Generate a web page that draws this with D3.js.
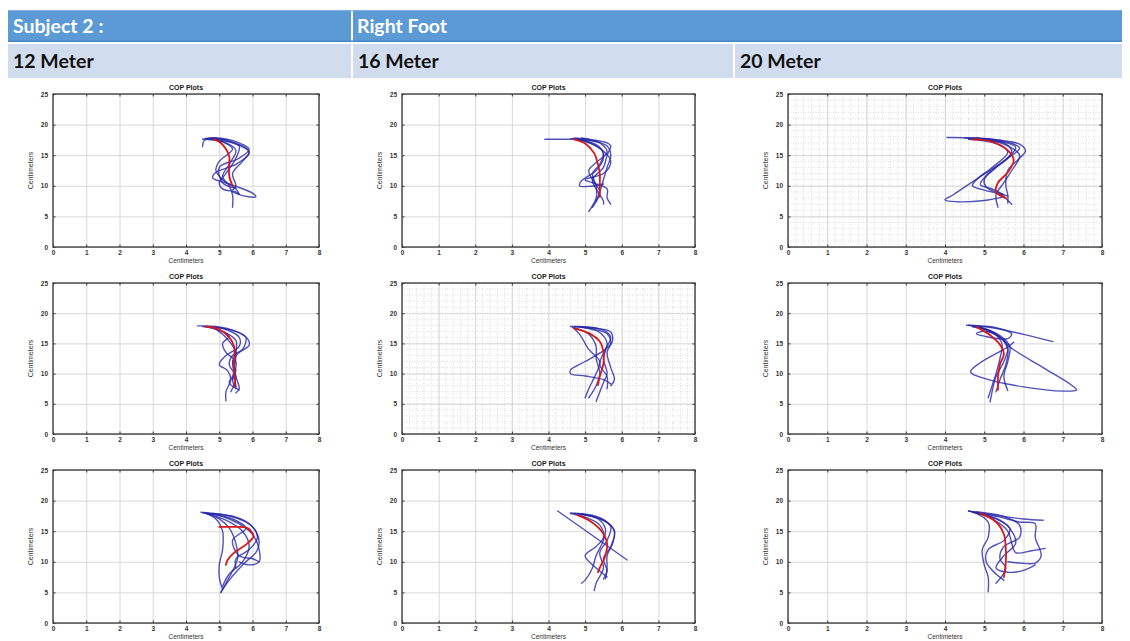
<!DOCTYPE html>
<html>
<head>
<meta charset="utf-8">
<script src="https://cdn.jsdelivr.net/npm/d3@7/dist/d3.min.js"></script>
<style>
  html, body { margin: 0; padding: 0; background: #ffffff; }
  svg { display: block; }
</style>
</head>
<body>
<svg id="chart" width="1130" height="641"></svg>
<script>
// ---- Labels and ticks ----
const subjectLabel = "Subject 2 :";
const footLabel = "Right Foot";
const distanceLabels = ["12 Meter", "16 Meter", "20 Meter"];
const panelTitle = "COP Plots";
const axisLabel = "Centimeters";
const xTickValues = [0, 1, 2, 3, 4, 5, 6, 7, 8];
const yTickValues = [0, 5, 10, 15, 20, 25];
const xDomain = [0, 8];
const yDomain = [0, 25];

// ---- COP traces, [x cm, y cm]; one mean trace (red) per panel ----
// 12 m, trial set 1
const m12a_trials = [
  [[4.5,17.6],[4.8,17.8],[5.3,17.3],[5.8,16.2],[5.9,15.3],[5.5,13.5],[4.9,12.2],[4.8,11.3],[5.3,10.3],[6.0,8.8],[6.1,8.2],[5.7,8.4],[5.4,9.0]],
  [[4.6,17.7],[5.0,17.5],[5.6,16.6],[5.9,15.6],[5.7,14.0],[5.4,12.0],[5.5,10.0],[5.4,9.3]],
  [[4.7,17.8],[5.1,17.2],[5.4,16.0],[5.0,14.0],[4.9,12.5],[5.1,11.0],[5.5,9.5],[5.6,8.6]],
  [[4.6,17.6],[5.2,17.0],[5.5,15.8],[5.3,13.5],[5.1,11.5],[5.3,10.0],[5.4,8.5],[5.4,6.5]],
  [[4.5,16.4],[4.55,17.4],[4.9,17.8],[5.6,17.0],[5.9,16.0],[5.6,14.5],[5.0,13.0],[5.1,10.5],[5.5,9.6]],
  [[4.8,17.8],[5.2,17.4],[5.6,16.5],[5.5,14.5],[5.2,12.0],[5.0,10.5],[5.1,9.5],[5.5,9.0],[5.6,8.6]]
];
const m12a_mean = [[4.85,17.6],[5.05,17.0],[5.2,16.0],[5.3,14.8],[5.3,13.2],[5.3,11.6],[5.4,10.0]];

// 16 m, trial set 1
const m16a_trials = [
  [[3.9,17.6],[4.4,17.6],[4.8,17.6],[5.3,17.2],[5.6,16.5],[5.7,15.0],[5.6,13.0],[5.5,11.0],[5.4,9.0],[5.3,7.5]],
  [[4.6,17.7],[5.0,17.4],[5.4,16.3],[5.5,14.5],[5.3,12.5],[4.9,10.8],[4.85,10.0],[5.1,9.9],[5.5,10.3]],
  [[4.7,17.8],[5.2,17.5],[5.6,17.0],[5.7,16.5],[5.6,15.0],[5.5,13.0],[5.2,11.0],[5.35,9.0],[5.5,7.5],[5.5,7.0]],
  [[4.8,17.7],[5.2,16.8],[5.5,15.5],[5.4,13.5],[5.2,12.0],[5.3,10.0],[5.3,8.0],[5.1,5.8]],
  [[4.7,17.6],[5.3,16.5],[5.7,14.0],[5.5,12.0],[5.0,11.0],[5.2,10.5],[5.6,9.5],[5.6,8.0],[5.7,7.0]],
  [[4.9,17.8],[5.4,17.0],[5.6,15.5],[5.3,13.8],[5.1,12.5],[5.2,11.0],[5.4,9.0],[5.2,6.5]]
];
const m16a_mean = [[4.7,17.6],[5.0,16.9],[5.25,15.3],[5.35,13.5],[5.4,12.0],[5.4,10.0],[5.4,8.2]];

// 20 m, trial set 1
const m20a_trials = [
  [[4.05,17.9],[4.8,17.8],[5.5,17.3],[5.9,16.2],[5.6,14.5],[4.9,11.5],[4.2,8.5],[4.0,7.7],[4.3,7.4],[5.0,7.6],[5.5,8.2]],
  [[4.5,17.8],[5.3,17.5],[5.9,16.8],[6.05,15.7],[5.9,14.5],[5.6,12.5],[5.55,10.0],[5.6,8.5],[5.6,7.2]],
  [[4.6,17.7],[5.4,17.2],[5.8,16.3],[5.6,14.5],[5.1,12.0],[4.9,10.2],[5.2,9.5],[5.5,8.5]],
  [[4.7,17.7],[5.5,17.0],[5.7,15.5],[5.3,13.0],[5.0,11.0],[5.05,9.8],[5.3,9.0],[5.6,8.3]],
  [[4.8,17.8],[5.5,16.8],[5.9,15.0],[5.7,12.5],[5.5,10.5],[5.3,8.5],[5.35,6.5]],
  [[4.6,17.6],[5.3,16.9],[5.6,15.5],[5.2,13.0],[4.8,11.0],[4.7,10.0],[5.0,9.3],[5.4,8.6],[5.7,7.0]]
];
const m20a_mean = [[4.7,17.6],[5.2,17.2],[5.6,15.8],[5.75,14.2],[5.6,12.2],[5.35,10.5],[5.3,9.0],[5.55,8.0]];

// 12 m, trial set 2
const m12b_trials = [
  [[4.35,17.9],[4.9,17.8],[5.5,17.0],[5.85,15.8],[5.9,14.7],[5.6,13.5],[5.4,12.0],[5.5,10.5],[5.4,9.0],[5.5,7.5]],
  [[4.6,17.8],[5.2,17.3],[5.6,16.0],[5.6,14.5],[5.2,13.0],[5.0,11.5],[5.25,10.5],[5.35,9.0],[5.2,7.0],[5.2,5.5]],
  [[4.7,17.7],[5.1,17.0],[5.5,15.5],[5.5,13.5],[5.4,11.5],[5.5,9.5],[5.6,7.5],[5.5,6.8]],
  [[4.5,17.8],[5.0,17.2],[5.3,16.2],[5.1,15.0],[5.2,13.5],[5.5,12.0],[5.45,10.0],[5.3,8.5],[5.6,7.3]],
  [[4.8,17.7],[5.1,16.5],[5.35,15.0],[5.5,13.5],[5.45,11.0],[5.4,9.0]],
  [[4.9,17.7],[5.5,17.0],[5.8,16.0],[5.7,14.0],[5.4,13.0],[5.3,11.5],[5.5,9.5],[5.35,7.0]]
];
const m12b_mean = [[4.6,17.8],[5.0,17.3],[5.3,16.0],[5.45,14.5],[5.45,12.5],[5.45,10.0],[5.5,7.8]];

// 16 m, trial set 2
const m16b_trials = [
  [[4.7,17.8],[5.2,17.4],[5.6,16.6],[5.7,15.0],[5.5,13.8],[5.0,12.0],[4.6,10.6],[4.6,10.0],[5.0,9.6],[5.5,9.0],[5.7,8.3]],
  [[4.6,17.8],[5.3,17.5],[5.7,16.9],[5.75,15.5],[5.6,13.5],[5.7,11.0],[5.8,9.0],[5.7,8.0]],
  [[4.7,17.6],[5.1,16.5],[5.3,14.5],[5.3,12.5],[5.4,10.0],[5.3,8.0],[5.1,6.0]],
  [[4.9,17.7],[5.4,16.8],[5.6,15.0],[5.5,12.5],[5.6,10.0],[5.5,8.5],[5.3,5.4]],
  [[4.65,17.7],[4.85,16.5],[5.1,14.0],[5.4,12.0],[5.3,10.0],[5.1,7.5],[5.0,6.0]],
  [[4.8,17.8],[5.5,17.2],[5.7,16.0],[5.55,14.0],[5.4,11.5],[5.6,9.5],[5.6,7.5]]
];
const m16b_mean = [[4.7,17.5],[5.1,16.7],[5.4,15.3],[5.5,13.5],[5.5,11.7],[5.4,9.5],[5.35,8.1]];

// 20 m, trial set 2
const m20b_trials = [
  [[4.55,18.0],[5.2,17.6],[6.0,16.5],[6.75,15.3]],
  [[4.7,17.8],[5.2,17.0],[5.5,15.5],[5.7,14.2],[6.5,11.0],[7.2,8.2],[7.35,7.3],[7.0,7.1],[6.0,7.8],[5.0,9.2],[4.65,10.3],[4.9,11.8],[5.6,14.4],[5.75,15.2]],
  [[4.6,18.0],[5.3,17.6],[5.7,16.6],[5.6,15.8],[5.0,16.2],[4.8,16.6],[5.0,17.0],[5.4,16.0],[5.6,14.0],[5.55,11.5],[5.4,9.0],[5.3,7.0]],
  [[4.8,17.8],[5.3,16.5],[5.6,14.5],[5.5,12.0],[5.3,9.5],[5.2,7.0],[5.15,5.3]],
  [[4.9,17.7],[5.4,16.3],[5.65,14.5],[5.6,12.0],[5.5,9.5],[5.6,7.2]],
  [[4.7,17.8],[5.2,16.8],[5.45,15.0],[5.4,12.5],[5.3,10.0],[5.2,8.0],[5.1,6.0]]
];
const m20b_mean = [[4.8,17.7],[5.1,16.6],[5.4,14.8],[5.5,13.3],[5.4,11.5],[5.35,9.5],[5.35,7.3]];

// 12 m, trial set 3
const m12c_trials = [
  [[4.45,18.1],[5.2,17.6],[5.8,16.5],[6.1,15.0],[6.2,13.0],[6.1,11.5],[5.8,10.0],[5.3,7.0],[5.05,5.0]],
  [[4.5,18.0],[5.1,17.4],[5.6,16.2],[6.0,14.5],[6.2,12.0],[6.2,10.0],[5.9,9.5],[5.6,10.0]],
  [[4.6,17.9],[5.0,17.0],[5.3,15.5],[5.5,13.0],[5.55,10.5],[5.4,8.5],[5.2,6.5],[5.05,5.0]],
  [[4.7,17.8],[5.2,16.8],[5.7,15.0],[5.9,12.5],[5.7,10.0],[5.3,8.0],[5.1,6.0]],
  [[4.55,18.0],[4.9,17.0],[5.1,15.0],[5.1,12.0],[5.0,9.5],[5.0,7.5],[5.1,5.5]],
  [[4.8,17.9],[5.5,17.3],[5.95,16.0],[6.15,14.0],[5.9,12.0],[5.5,10.5],[5.5,9.0]],
  [[4.6,18.0],[5.4,17.0],[5.8,15.5],[5.4,13.5],[5.6,11.0],[6.0,10.5],[6.2,10.0]]
];
const m12c_mean = [[5.0,15.7],[5.5,15.7],[5.85,15.5],[6.03,14.2],[5.8,12.8],[5.45,11.5],[5.25,10.3],[5.2,9.5]];

// 16 m, trial set 3
const m16c_trials = [
  [[4.25,18.3],[5.2,14.3],[6.15,10.3]],
  [[4.6,18.0],[5.2,17.6],[5.6,16.5],[5.8,15.0],[5.75,13.0],[5.6,11.0],[5.6,9.0],[5.55,7.2]],
  [[4.7,17.9],[5.3,17.2],[5.55,15.5],[5.5,13.5],[5.3,11.0],[5.2,9.0],[5.0,7.0],[4.9,6.5]],
  [[4.8,17.9],[5.4,17.0],[5.7,15.8],[5.6,13.5],[5.4,11.5],[5.5,9.0],[5.3,6.5],[5.25,5.3]],
  [[4.6,17.9],[5.0,17.3],[5.4,16.0],[5.5,14.0],[5.3,12.5],[5.0,11.0],[5.2,9.5],[5.5,8.0],[5.6,7.5]],
  [[4.9,17.8],[5.5,16.8],[5.8,15.0],[5.7,12.5],[5.5,10.5],[5.6,8.5],[5.5,7.2]]
];
const m16c_mean = [[4.8,17.6],[5.1,16.8],[5.45,15.0],[5.6,13.0],[5.55,11.0],[5.4,9.0],[5.35,8.3]];

// 20 m, trial set 3
const m20c_trials = [
  [[4.6,18.3],[5.3,17.6],[6.0,17.0],[6.5,16.8]],
  [[4.6,18.3],[5.4,17.3],[5.9,16.5],[6.3,16.2],[6.3,14.0],[6.45,11.0],[6.3,9.8],[5.9,9.8],[5.6,10.0]],
  [[4.7,18.2],[5.2,17.0],[5.6,15.0],[5.7,13.0],[5.8,11.5],[6.2,11.8],[6.55,12.2]],
  [[4.7,18.2],[5.1,16.5],[5.1,14.0],[4.95,12.0],[5.0,9.5],[5.1,7.5],[5.1,5.1]],
  [[4.8,18.0],[5.4,16.8],[5.7,15.0],[5.8,13.0],[5.5,11.0],[5.3,9.0],[5.6,8.3],[6.0,8.6],[6.3,9.5]],
  [[4.7,18.1],[5.3,17.0],[5.65,15.5],[5.5,13.5],[5.1,12.0],[5.05,10.0],[5.3,8.0],[5.5,7.0]],
  [[4.8,18.2],[5.5,17.4],[5.9,16.0],[5.9,14.0],[5.5,12.5],[5.4,10.5],[5.55,9.0],[5.3,6.5]]
];
const m20c_mean = [[4.9,17.9],[5.3,16.5],[5.5,14.5],[5.55,12.0],[5.55,10.0],[5.5,7.5]];

// ---- Page layout ----
const svg = d3.select("#chart");
const headerFont = "Lato, 'Open Sans', sans-serif";
const plotFont = "'Liberation Sans', Arial, sans-serif";

// Header table: two rows, blue title row and pale distance row
const headerLeft = 8, headerRight = 1122;
const colBreaks = [8, 351, 733, 1122];
const headerSize = 19.5;
const head = svg.append("g");
head.append("rect").attr("x", headerLeft).attr("y", 10).attr("width", 343).attr("height", 32).attr("fill", "#5b9ad5");
head.append("rect").attr("x", 353).attr("y", 10).attr("width", headerRight - 353).attr("height", 32).attr("fill", "#5b9ad5");
head.append("rect").attr("x", headerLeft).attr("y", 40.5).attr("width", headerRight - headerLeft).attr("height", 1.5).attr("fill", "#4a87c6");
head.append("rect").attr("x", headerLeft).attr("y", 10).attr("width", headerRight - headerLeft).attr("height", 1).attr("fill", "#7fb0e0");
head.append("text").attr("x", 13).attr("y", 33).text(subjectLabel)
  .attr("font-family", headerFont).attr("font-weight", 700).attr("font-size", headerSize).attr("fill", "#ffffff");
head.append("text").attr("x", 357).attr("y", 33).text(footLabel)
  .attr("font-family", headerFont).attr("font-weight", 700).attr("font-size", headerSize).attr("fill", "#ffffff");

distanceLabels.forEach((lab, i) => {
  const x0 = colBreaks[i] + (i === 0 ? 0 : 2), x1 = colBreaks[i + 1];
  head.append("rect").attr("x", x0).attr("y", 44).attr("width", x1 - x0).attr("height", 34).attr("fill", "#d1ddef");
  head.append("text").attr("x", x0 + 5).attr("y", 68).text(lab)
    .attr("font-family", headerFont).attr("font-weight", 700).attr("font-size", headerSize).attr("fill", "#111111");
});

// ---- Panels ----
const panelCols = [[53, 319], [402, 695], [788, 1102]];
const panelRows = [[94, 247], [283, 434], [470, 623]];
const panels = [
  { trials: m12a_trials, mean: m12a_mean, minor: false },
  { trials: m16a_trials, mean: m16a_mean, minor: false },
  { trials: m20a_trials, mean: m20a_mean, minor: true },
  { trials: m12b_trials, mean: m12b_mean, minor: false },
  { trials: m16b_trials, mean: m16b_mean, minor: true },
  { trials: m20b_trials, mean: m20b_mean, minor: false },
  { trials: m12c_trials, mean: m12c_mean, minor: false },
  { trials: m16c_trials, mean: m16c_mean, minor: false },
  { trials: m20c_trials, mean: m20c_mean, minor: false }
];

panels.forEach((p, i) => {
  const [left, right] = panelCols[i % 3];
  const [top, bottom] = panelRows[Math.floor(i / 3)];
  const x = d3.scaleLinear().domain(xDomain).range([left, right]);
  const y = d3.scaleLinear().domain(yDomain).range([bottom, top]);
  const g = svg.append("g");

  g.append("rect").attr("x", left).attr("y", top).attr("width", right - left).attr("height", bottom - top).attr("fill", "#ffffff");

  // minor grid (dotted)
  if (p.minor) {
    const mg = g.append("g").attr("stroke", "#cfcfcf").attr("stroke-width", 0.7).attr("stroke-dasharray", "1,1.5");
    d3.range(0, 8.001, 0.2).forEach(v => {
      mg.append("line").attr("x1", x(v)).attr("x2", x(v)).attr("y1", top).attr("y2", bottom);
    });
    d3.range(0, 25.001, 1).forEach(v => {
      mg.append("line").attr("x1", left).attr("x2", right).attr("y1", y(v)).attr("y2", y(v));
    });
  }

  // major grid
  g.append("g").attr("transform", `translate(0,${bottom})`)
    .call(d3.axisBottom(x).tickValues(xTickValues).tickSize(-(bottom - top)).tickFormat(""))
    .call(s => s.select(".domain").remove())
    .call(s => s.selectAll("line").attr("stroke", "#d4d4d4").attr("stroke-width", 0.9));
  g.append("g").attr("transform", `translate(${left},0)`)
    .call(d3.axisLeft(y).tickValues(yTickValues).tickSize(-(right - left)).tickFormat(""))
    .call(s => s.select(".domain").remove())
    .call(s => s.selectAll("line").attr("stroke", "#d4d4d4").attr("stroke-width", 0.9));

  // traces
  const clipId = "clip" + i;
  g.append("clipPath").attr("id", clipId).append("rect")
    .attr("x", left).attr("y", top).attr("width", right - left).attr("height", bottom - top);
  const line = d3.line().x(d => x(d[0])).y(d => y(d[1])).curve(d3.curveCatmullRom.alpha(0.5));
  const traces = g.append("g").attr("clip-path", `url(#${clipId})`).attr("fill", "none")
    .attr("stroke-linejoin", "round").attr("stroke-linecap", "round");
  p.trials.forEach(t => {
    traces.append("path").attr("d", line(t)).attr("stroke", "#2525a8").attr("stroke-width", 1.4).attr("stroke-opacity", 0.8);
  });
  traces.append("path").attr("d", line(p.mean)).attr("stroke", "#d81818").attr("stroke-width", 1.8);

  // inward ticks on all sides + frame
  const tickLen = 2.5;
  const axStyle = s => {
    s.select(".domain").remove();
    s.selectAll("line").attr("stroke", "#333").attr("stroke-width", 1);
    s.selectAll("text").attr("font-family", plotFont).attr("font-size", 6.5).attr("font-weight", 700).attr("fill", "#333");
  };
  g.append("g").attr("transform", `translate(0,${bottom})`)
    .call(d3.axisBottom(x).tickValues(xTickValues).tickSize(-tickLen).tickPadding(3).tickFormat(d3.format("d")))
    .call(axStyle);
  g.append("g").attr("transform", `translate(0,${top})`)
    .call(d3.axisTop(x).tickValues(xTickValues).tickSize(-tickLen).tickFormat(""))
    .call(axStyle);
  g.append("g").attr("transform", `translate(${left},0)`)
    .call(d3.axisLeft(y).tickValues(yTickValues).tickSize(-tickLen).tickPadding(5).tickFormat(d3.format("d")))
    .call(axStyle);
  g.append("g").attr("transform", `translate(${right},0)`)
    .call(d3.axisRight(y).tickValues(yTickValues).tickSize(-tickLen).tickFormat(""))
    .call(axStyle);
  g.append("rect").attr("x", left).attr("y", top).attr("width", right - left).attr("height", bottom - top)
    .attr("fill", "none").attr("stroke", "#444").attr("stroke-width", 1.4);

  // titles
  g.append("text").attr("x", (left + right) / 2).attr("y", top - 4).attr("text-anchor", "middle")
    .attr("font-family", plotFont).attr("font-weight", 700).attr("font-size", 7).attr("fill", "#222").text(panelTitle);
  g.append("text").attr("x", (left + right) / 2).attr("y", bottom + 16).attr("text-anchor", "middle")
    .attr("font-family", plotFont).attr("font-size", 6.5).attr("fill", "#333").text(axisLabel);
  g.append("text").attr("transform", `translate(${left - 20},${(top + bottom) / 2}) rotate(-90)`)
    .attr("text-anchor", "middle").attr("font-family", plotFont).attr("font-size", 7).attr("fill", "#333").text(axisLabel);
});
</script>
</body>
</html>
